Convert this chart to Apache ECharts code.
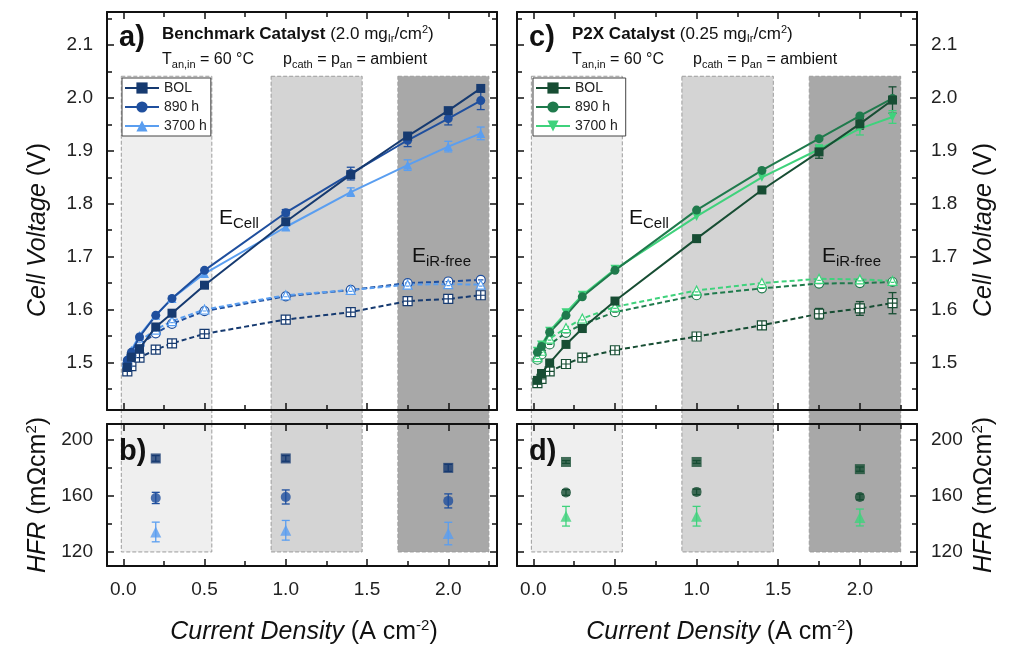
<!DOCTYPE html>
<html>
<head>
<meta charset="utf-8">
<script src="https://cdn.jsdelivr.net/npm/echarts@6/dist/echarts.min.js"></script>
<style>
html, body { margin: 0; padding: 0; background: #fff; }
#chart { width: 1013px; height: 646px; }
</style>
</head>
<body>
<div id="chart"></div>
<script>
// current densities (A cm-2)
var jPol = [0.025, 0.05, 0.1, 0.2, 0.3, 0.5, 1.0, 1.4, 1.75, 2.0, 2.2];
var jHfr = [0.2, 1.0, 2.0];

// benchmark catalyst, cell voltage (V)
var benchCellBOL  = [1.491, 1.510, 1.526, 1.567, 1.593, 1.646, 1.766, 1.855, 1.928, 1.976, 2.018];
var benchCell890  = [1.504, 1.519, 1.548, 1.589, 1.621, 1.674, 1.783, 1.857, 1.920, 1.961, 1.995];
var benchCell3700 = [1.507, 1.523, 1.551, 1.589, 1.621, 1.668, 1.756, 1.822, 1.873, 1.908, 1.933];
var benchErr890   = [0, 0, 0, 0, 0, 0, 0.006, 0.012, 0.012, 0.012, 0.017];
var benchErr3700  = [0, 0, 0, 0, 0, 0, 0.006, 0.008, 0.010, 0.010, 0.012];
// benchmark catalyst, iR-free voltage (V)
var benchIrBOL    = [1.483, 1.493, 1.509, 1.524, 1.536, 1.554, 1.581, 1.595, 1.616, 1.620, 1.627];
var benchIr890    = [1.497, 1.513, 1.533, 1.555, 1.573, 1.597, 1.625, 1.637, 1.650, 1.653, 1.656];
var benchIr3700   = [1.500, 1.518, 1.540, 1.562, 1.578, 1.600, 1.627, 1.637, 1.647, 1.648, 1.647];
// benchmark catalyst, HFR (mOhm cm2)
var benchHfrBOL   = [186.5, 186.5, 179.8];
var benchHfr890   = [158.4, 159.1, 156.3];
var benchHfr3700  = [134.2, 135.4, 133.1];
var benchHfrErrBOL  = [2, 2, 2.5];
var benchHfrErr890  = [4, 5, 5];
var benchHfrErr3700 = [7, 7, 8];

// P2X catalyst, cell voltage (V)
var p2xCellBOL  = [1.466, 1.479, 1.499, 1.534, 1.564, 1.616, 1.734, 1.826, 1.898, 1.951, 1.996];
var p2xCell890  = [1.519, 1.530, 1.557, 1.589, 1.624, 1.674, 1.788, 1.863, 1.923, 1.966, 1.999];
var p2xCell3700 = [1.521, 1.533, 1.559, 1.594, 1.627, 1.676, 1.776, 1.850, 1.903, 1.942, 1.964];
var p2xErrBOL   = [0, 0, 0, 0, 0, 0, 0, 0.006, 0.012, 0.010, 0.025];
var p2xErr3700  = [0, 0, 0, 0, 0, 0, 0, 0, 0.008, 0.012, 0.012];
// P2X catalyst, iR-free voltage (V)
var p2xIrBOL    = [1.461, 1.469, 1.483, 1.497, 1.509, 1.523, 1.549, 1.570, 1.592, 1.602, 1.612];
var p2xIr890    = [1.505, 1.515, 1.534, 1.556, 1.572, 1.595, 1.627, 1.640, 1.649, 1.650, 1.652];
var p2xIr3700   = [1.510, 1.522, 1.545, 1.565, 1.583, 1.605, 1.636, 1.650, 1.658, 1.657, 1.654];
var p2xIrErrBOL = [0, 0, 0, 0, 0, 0, 0, 0, 0.010, 0.013, 0.020];
// P2X catalyst, HFR (mOhm cm2)
var p2xHfrBOL   = [184.0, 184.0, 178.9];
var p2xHfr890   = [162.3, 162.7, 159.1];
var p2xHfr3700  = [145.4, 145.4, 144.5];
var p2xHfrErrBOL  = [1, 1, 1.5];
var p2xHfrErr890  = [2, 2, 2];
var p2xHfrErr3700 = [7, 7, 6];

// ticks
var xMajor = [0, 0.5, 1.0, 1.5, 2.0];
var xMinor = [0.25, 0.75, 1.25, 1.75, 2.25];
var vMajor = [1.5, 1.6, 1.7, 1.8, 1.9, 2.0, 2.1];
var vMinor = [1.45, 1.55, 1.65, 1.75, 1.85, 1.95, 2.05, 2.15];
var hMajor = [120, 160, 200];
var hMinor = [140, 180];

// shaded test windows (current density ranges)
var shadeFrom = [-0.012, 0.91, 1.69];
var shadeTo   = [0.545, 1.47, 2.25];
var shadeColors = ['#efefef', '#d4d4d4', '#a8a8a8'];

var legendNames = ['BOL', '890 h', '3700 h'];
var legendNamesR = ['BOL ', '890 h ', '3700 h '];

var FONT = '"Liberation Sans", Arial, sans-serif';
var blue = ['#163a70', '#1f4f9e', '#5a9ef0'];
var green = ['#174d33', '#1f7a4c', '#3fd27c'];

var V_MIN = 1.41, V_MAX = 2.1625, V_SHADE_TOP = 2.041;
var H_MIN = 110, H_MAX = 211, H_SHADE_BOT = 120;

var sqCross = 'path://M0,0L10,0L10,10L0,10Z M5,0L5,10 M0,5L10,5';
var circDash = 'path://M0,5A5,5,0,1,1,10,5A5,5,0,1,1,0,5Z M2,5L8,5';
var triDash = 'path://M5,0L10,9L0,9Z M3,6L7,6';

var grids = [
  { left: 107, top: 12, width: 390, height: 398 },
  { left: 107, top: 424, width: 390, height: 142 },
  { left: 517, top: 12, width: 400, height: 398 },
  { left: 517, top: 424, width: 400, height: 142 }
];

function fmt1(v) { return v.toFixed(1); }
function fmt0(v) { return String(Math.round(v)); }

function axis(g, pos, min, max, vals, len, line, labels, fmt) {
  return {
    type: 'value', gridIndex: g, position: pos, min: min, max: max, z: 5,
    axisLine: { show: line, onZero: false, lineStyle: { color: '#111', width: 2 } },
    axisTick: { show: true, inside: true, length: len, customValues: vals, lineStyle: { color: '#111', width: 1.5 } },
    axisLabel: { show: labels, customValues: vals, formatter: fmt, fontFamily: FONT, fontSize: 19, color: '#222', margin: 14 },
    splitLine: { show: false }
  };
}

var xAxes = [], yAxes = [];
grids.forEach(function (gr, g) {
  var right = g >= 2, bottom = g % 2 === 1;
  var xmax = right ? 2.35 : 2.3;
  xAxes.push(axis(g, 'bottom', -0.1, xmax, xMajor, 7, true, bottom, fmt1));
  xAxes.push(axis(g, 'bottom', -0.1, xmax, xMinor, 5, false, false, fmt1));
  xAxes.push(axis(g, 'top', -0.1, xmax, xMajor, 7, true, false, fmt1));
  xAxes.push(axis(g, 'top', -0.1, xmax, xMinor, 5, false, false, fmt1));
  var ymin = bottom ? H_MIN : V_MIN, ymax = bottom ? H_MAX : V_MAX;
  var maj = bottom ? hMajor : vMajor, mnr = bottom ? hMinor : vMinor;
  var f = bottom ? fmt0 : fmt1;
  yAxes.push(axis(g, 'left', ymin, ymax, maj, 7, true, !right, f));
  yAxes.push(axis(g, 'left', ymin, ymax, mnr, 5, false, false, f));
  yAxes.push(axis(g, 'right', ymin, ymax, maj, 7, true, right, f));
  yAxes.push(axis(g, 'right', ymin, ymax, mnr, 5, false, false, f));
});

function pairs(xs, ys) { return xs.map(function (x, i) { return [x, ys[i]]; }); }

function shadeSeries(g) {
  var bottom = g % 2 === 1;
  var data = shadeFrom.map(function (a, i) {
    return [
      { xAxis: a, yAxis: bottom ? H_MAX : V_SHADE_TOP, itemStyle: { color: shadeColors[i], borderColor: '#9c9c9c', borderWidth: 1, borderType: 'dashed' } },
      { xAxis: shadeTo[i], yAxis: bottom ? H_SHADE_BOT : V_MIN }
    ];
  });
  return { type: 'line', xAxisIndex: 4 * g, yAxisIndex: 4 * g, data: [], z: 0, silent: true,
    markArea: { silent: true, data: data } };
}

function cellSeries(name, g, ys, color, symbol, rot) {
  return { type: 'line', name: name, xAxisIndex: 4 * g, yAxisIndex: 4 * g, data: pairs(jPol, ys),
    symbol: symbol, symbolSize: 9, symbolRotate: rot || 0, z: 4,
    lineStyle: { color: color, width: 2 }, itemStyle: { color: color } };
}

function irSeries(name, g, ys, color, symbol) {
  return { type: 'line', name: name, xAxisIndex: 4 * g, yAxisIndex: 4 * g, data: pairs(jPol, ys),
    symbol: symbol, symbolSize: 9, z: 3,
    lineStyle: { color: color, width: 2, type: [5, 3] },
    itemStyle: { color: '#fff', borderColor: color, borderWidth: 1.2 } };
}

function hfrSeries(name, g, ys, color, symbol) {
  return { type: 'scatter', name: name, xAxisIndex: 4 * g, yAxisIndex: 4 * g, data: pairs(jHfr, ys),
    symbol: symbol, symbolSize: symbol === 'triangle' ? 11 : 10, z: 4, itemStyle: { color: color } };
}

function errSeries(g, xs, ys, errs, color) {
  var d = [];
  xs.forEach(function (x, i) { if (errs[i] > 0) d.push([x, ys[i] - errs[i], ys[i] + errs[i]]); });
  return { type: 'custom', xAxisIndex: 4 * g, yAxisIndex: 4 * g, data: d, z: 3, silent: true,
    encode: { x: 0, y: [1, 2] },
    renderItem: function (params, api) {
      var lo = api.coord([api.value(0), api.value(1)]);
      var hi = api.coord([api.value(0), api.value(2)]);
      var w = 4, st = { stroke: color, lineWidth: 1.3 };
      return { type: 'group', children: [
        { type: 'line', shape: { x1: hi[0], y1: hi[1], x2: lo[0], y2: lo[1] }, style: st },
        { type: 'line', shape: { x1: hi[0] - w, y1: hi[1], x2: hi[0] + w, y2: hi[1] }, style: st },
        { type: 'line', shape: { x1: lo[0] - w, y1: lo[1], x2: lo[0] + w, y2: lo[1] }, style: st }
      ] };
    } };
}

var series = [shadeSeries(0), shadeSeries(1), shadeSeries(2), shadeSeries(3),
  // benchmark polarisation
  irSeries('bench iR BOL', 0, benchIrBOL, blue[0], sqCross),
  irSeries('bench iR 890', 0, benchIr890, blue[1], circDash),
  irSeries('bench iR 3700', 0, benchIr3700, blue[2], triDash),
  cellSeries(legendNames[2], 0, benchCell3700, blue[2], 'triangle'),
  cellSeries(legendNames[1], 0, benchCell890, blue[1], 'circle'),
  cellSeries(legendNames[0], 0, benchCellBOL, blue[0], 'rect'),
  errSeries(0, jPol, benchCell890, benchErr890, blue[1]),
  errSeries(0, jPol, benchCell3700, benchErr3700, blue[2]),
  // benchmark HFR
  errSeries(1, jHfr, benchHfrBOL, benchHfrErrBOL, blue[0]),
  errSeries(1, jHfr, benchHfr890, benchHfrErr890, blue[1]),
  errSeries(1, jHfr, benchHfr3700, benchHfrErr3700, blue[2]),
  hfrSeries('bench HFR BOL', 1, benchHfrBOL, blue[0], 'rect'),
  hfrSeries('bench HFR 890', 1, benchHfr890, blue[1], 'circle'),
  hfrSeries('bench HFR 3700', 1, benchHfr3700, blue[2], 'triangle'),
  // P2X polarisation
  irSeries('p2x iR BOL', 2, p2xIrBOL, green[0], sqCross),
  irSeries('p2x iR 890', 2, p2xIr890, green[1], circDash),
  irSeries('p2x iR 3700', 2, p2xIr3700, green[2], triDash),
  errSeries(2, jPol, p2xIrBOL, p2xIrErrBOL, green[0]),
  cellSeries(legendNamesR[2], 2, p2xCell3700, green[2], 'triangle', 180),
  cellSeries(legendNamesR[1], 2, p2xCell890, green[1], 'circle'),
  cellSeries(legendNamesR[0], 2, p2xCellBOL, green[0], 'rect'),
  errSeries(2, jPol, p2xCellBOL, p2xErrBOL, green[0]),
  errSeries(2, jPol, p2xCell3700, p2xErr3700, green[2]),
  // P2X HFR
  errSeries(3, jHfr, p2xHfrBOL, p2xHfrErrBOL, green[0]),
  errSeries(3, jHfr, p2xHfr890, p2xHfrErr890, green[0]),
  errSeries(3, jHfr, p2xHfr3700, p2xHfrErr3700, green[2]),
  hfrSeries('p2x HFR BOL', 3, p2xHfrBOL, green[0], 'rect'),
  hfrSeries('p2x HFR 890', 3, p2xHfr890, green[0], 'circle'),
  hfrSeries('p2x HFR 3700', 3, p2xHfr3700, green[2], 'triangle')
];

function legendAt(left, names) {
  return { data: names, left: left, top: 78, orient: 'vertical', itemWidth: 34, itemHeight: 14, itemGap: 5,
    padding: [3, 4, 3, 2], borderColor: '#444', borderWidth: 1, backgroundColor: '#fff', z: 6,
    selectedMode: false, textStyle: { fontFamily: FONT, fontSize: 14, color: '#222' } };
}

var richBase = {
  n: { fontFamily: FONT, fontSize: 16, color: '#111', lineHeight: 20 },
  b: { fontFamily: FONT, fontSize: 17, fontWeight: 'bold', color: '#111', lineHeight: 20 },
  bn: { fontFamily: FONT, fontSize: 17, color: '#111', lineHeight: 20 },
  s: { fontFamily: FONT, fontSize: 11, color: '#111', lineHeight: 12, verticalAlign: 'bottom' },
  p: { fontFamily: FONT, fontSize: 11, color: '#111', lineHeight: 12, verticalAlign: 'top' },
  i: { fontFamily: FONT, fontSize: 25, fontStyle: 'italic', color: '#111', lineHeight: 28 },
  m: { fontFamily: FONT, fontSize: 25, color: '#111', lineHeight: 28 },
  ms: { fontFamily: FONT, fontSize: 15, color: '#111', lineHeight: 16, verticalAlign: 'top' },
  E: { fontFamily: FONT, fontSize: 21, color: '#111', lineHeight: 26 },
  Es: { fontFamily: FONT, fontSize: 15, color: '#111', lineHeight: 16, verticalAlign: 'bottom' }
};

function txt(x, y, text, opts) {
  opts = opts || {};
  return { type: 'text', x: x, y: y, rotation: opts.rot || 0, z: 10,
    style: { text: text, rich: richBase, align: opts.align || 'left', verticalAlign: opts.va || 'middle',
      fontFamily: FONT, fontSize: opts.size || 15, fontWeight: opts.weight || 'normal', fill: '#111' } };
}

var texts = [];
[[0, 'a)', 'b)', '{b|Benchmark Catalyst}{bn| (2.0 mg}{s|Ir}{bn|/cm}{p|2}{bn|)}'],
 [410, 'c)', 'd)', '{b|P2X Catalyst}{bn| (0.25 mg}{s|Ir}{bn|/cm}{p|2}{bn|)}']].forEach(function (p) {
  var dx = p[0];
  texts.push(txt(119 + dx, 38, p[1], { size: 29, weight: 'bold' }));
  texts.push(txt(119 + dx, 452, p[2], { size: 29, weight: 'bold' }));
  texts.push(txt(162 + dx, 34, p[3]));
  texts.push(txt(162 + dx, 60, '{n|T}{s|an,in}{n| = 60 °C}'));
  texts.push(txt(283 + dx, 60, '{n|p}{s|cath}{n| = p}{s|an}{n| = ambient}'));
  texts.push(txt(219 + dx, 218, '{E|E}{Es|Cell}'));
  texts.push(txt(412 + dx, 256, '{E|E}{Es|iR-free}'));
});
texts.push(txt(304, 632, '{i|Current Density}{m| (A cm}{ms|-2}{m|)}', { align: 'center' }));
texts.push(txt(720, 632, '{i|Current Density}{m| (A cm}{ms|-2}{m|)}', { align: 'center' }));
texts.push(txt(38, 230, '{i|Cell Voltage}{m| (V)}', { align: 'center', rot: Math.PI / 2 }));
texts.push(txt(38, 495, '{i|HFR}{m| (mΩcm}{ms|2}{m|)}', { align: 'center', rot: Math.PI / 2 }));
texts.push(txt(984, 230, '{i|Cell Voltage}{m| (V)}', { align: 'center', rot: Math.PI / 2 }));
texts.push(txt(984, 495, '{i|HFR}{m| (mΩcm}{ms|2}{m|)}', { align: 'center', rot: Math.PI / 2 }));

var chart = echarts.init(document.getElementById('chart'), null, { renderer: 'canvas' });
var option = {
  animation: false,
  backgroundColor: '#fff',
  grid: grids,
  xAxis: xAxes,
  yAxis: yAxes,
  legend: [legendAt(122, legendNames), legendAt(533, legendNamesR)],
  series: series,
  graphic: texts
};
chart.setOption(option);

// continue the shaded windows through the gap between the upper and lower panels
var gap = [];
[[0, 1], [2, 3]].forEach(function (pr) {
  shadeFrom.forEach(function (a, i) {
    var p1 = chart.convertToPixel({ gridIndex: pr[0] }, [a, V_MIN]);
    var p2 = chart.convertToPixel({ gridIndex: pr[1] }, [shadeTo[i], H_MAX]);
    gap.push({ type: 'rect', z: 1, shape: { x: p1[0], y: p1[1] + 1, width: p2[0] - p1[0], height: p2[1] - p1[1] - 2 },
      style: { fill: shadeColors[i] } });
    [p1[0], p2[0]].forEach(function (xx) {
      gap.push({ type: 'line', z: 1, shape: { x1: xx, y1: p1[1], x2: xx, y2: p2[1] },
        style: { stroke: '#9c9c9c', lineWidth: 1, lineDash: [3, 2] } });
    });
  });
});
chart.setOption({ graphic: texts.concat(gap) });
</script>
</body>
</html>
